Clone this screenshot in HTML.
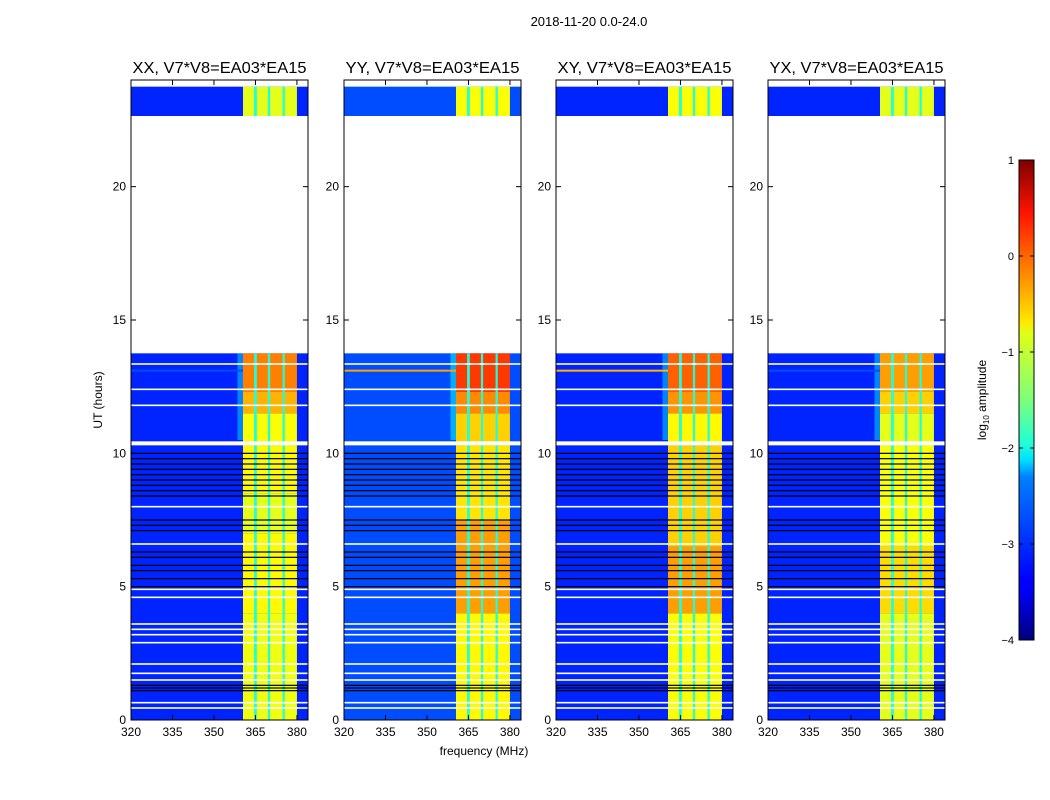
<!DOCTYPE html>
<html><head><meta charset="utf-8"><style>
body{margin:0;background:#fff;}
svg{display:block;font-family:"Liberation Sans","DejaVu Sans",sans-serif;}
</style></head><body>
<svg id="fig" width="1050" height="800" viewBox="0 0 1050 800">
<rect width="1050" height="800" fill="#fff"/>
<text x="589" y="26" font-size="13" text-anchor="middle">2018-11-20 0.0-24.0</text>
<text x="484" y="755" font-size="12" text-anchor="middle">frequency (MHz)</text>
<text transform="translate(102,400) rotate(-90)" font-size="12" text-anchor="middle">UT (hours)</text>
<defs><linearGradient id="jet" x1="0" y1="1" x2="0" y2="0">
<stop offset="0" stop-color="#00007f"/><stop offset="0.11" stop-color="#0000ff"/><stop offset="0.125" stop-color="#0000ff"/><stop offset="0.34" stop-color="#0080ff"/><stop offset="0.375" stop-color="#00e0ff"/><stop offset="0.41" stop-color="#20ffd8"/><stop offset="0.5" stop-color="#7dff7a"/><stop offset="0.64" stop-color="#e0ff18"/><stop offset="0.66" stop-color="#ffea00"/><stop offset="0.89" stop-color="#ff1300"/><stop offset="1" stop-color="#7f0000"/>
</linearGradient></defs>
<g id="panels"></g>
<g>
<rect x="1019" y="160" width="15" height="480" fill="url(#jet)" stroke="#000" stroke-width="1"/>
<g id="cbticks"></g>
<text transform="translate(986,400) rotate(-90)" font-size="12" text-anchor="middle">log<tspan font-size="8" dy="3">10</tspan><tspan dy="-3"> amplitude</tspan></text>
</g>
</svg>
<script>
// ---- data ----
const panelTitles = ["XX, V7*V8=EA03*EA15","YY, V7*V8=EA03*EA15","XY, V7*V8=EA03*EA15","YX, V7*V8=EA03*EA15"];
const xTicks = [320,335,350,365,380];
const yTicks = [0,5,10,15,20];
const cbTicks = [1,0,-1,-2,-3,-4];
const dataSegments = [[0,13.75],[22.65,23.75]];
const background = [-3.2,-3.0,-3.2,-3.2];
const bandEdges = [360.5,380];
const subbandGaps = [[364.5,365.5],[369.5,370.3],[374.8,375.6]];
const gapLevel = -2.0;
const bandLevelsXX = [[0,4,-0.95],[4,7,-0.85],[7,8.5,-1.0],[8.5,10.3,-0.85],[10.3,11.5,-0.9],[11.5,12.3,-0.5],[12.3,13.75,-0.25],[22.65,23.75,-1.0]];
const bandLevelsYY = [[0,4,-0.85],[4,7.5,-0.4],[7.5,10.3,-0.75],[10.3,11.5,-0.65],[11.5,12.3,-0.3],[12.3,13.75,0.1],[22.65,23.75,-0.9]];
const bandLevelsXY = [[0,4,-0.9],[4,6.5,-0.4],[6.5,10.3,-0.65],[10.3,11.5,-0.85],[11.5,12.3,-0.35],[12.3,13.75,-0.1],[22.65,23.75,-0.9]];
const bandLevelsYX = [[0,4,-1.0],[4,6.5,-0.7],[6.5,10.3,-0.9],[10.3,11.5,-1.0],[11.5,12.3,-0.65],[12.3,13.75,-0.4],[22.65,23.75,-1.0]];
const rfiLineLevel = [-3.0,-0.4,-0.5,-3.0];
const rfiLineHour = 13.1;
const whiteLines = [0.45,0.65,1.5,1.75,2.1,2.9,3.2,3.4,3.6,4.6,4.9,6.6,8.0,11.8,12.4,13.35];
const whiteBand = [10.3,10.45];
const blackLines = [1.1,1.2,1.3,5.0,5.3,5.6,5.8,6.1,6.3,7.1,7.3,7.5,8.4,8.6,8.8,9.0,9.2,9.4,9.6,9.8,10.0];

const bandLevels = [bandLevelsXX,bandLevelsYY,bandLevelsXY,bandLevelsYX];
// ---- layout ----
const panelX = [131,344,556,768], PW = 177, PT = 80, PH = 640;
const fMin = 320, fMax = 384, tMin = 0, tMax = 24;
const NS = "http://www.w3.org/2000/svg";
function el(tag, attrs, parent){const e=document.createElementNS(NS,tag);for(const k in attrs)e.setAttribute(k,attrs[k]);parent.appendChild(e);return e;}
function jet(v){let x=(v+4)/5;x=Math.max(0,Math.min(1,x));
 const r=Math.min(4*x-1.5,-4*x+4.5),g=Math.min(4*x-0.5,-4*x+3.5),b=Math.min(4*x+0.5,-4*x+2.5);
 const c=t=>Math.round(255*Math.max(0,Math.min(1,t)));return `rgb(${c(r)},${c(g)},${c(b)})`;}
const root=document.getElementById('panels');
panelTitles.forEach((title,p)=>{
 const x0=panelX[p];
 const xs=f=>x0+(f-fMin)/(fMax-fMin)*PW;
 const ys=t=>PT+PH-(t-tMin)/(tMax-tMin)*PH;
 const g=el('g',{},root);
 
 
 dataSegments.forEach(s=>{
  const r=el('rect',{x:x0,y:ys(s[1]),width:PW,height:ys(s[0])-ys(s[1]),fill:jet(background[p])},g);
  
  
 });
 const sh=el('rect',{x:xs(bandEdges[0]-2),y:ys(13.75),width:xs(bandEdges[0])-xs(bandEdges[0]-2),height:ys(10.5)-ys(13.75),fill:jet(background[p]+0.8),opacity:0.6},g);
 
 
 bandLevels[p].forEach(b=>{
  const c=el('rect',{x:xs(bandEdges[0]),y:ys(b[1]),width:xs(bandEdges[1])-xs(bandEdges[0]),height:ys(b[0])-ys(b[1]),fill:jet(b[2])},g);
  
  
  subbandGaps.forEach(gp=>{
   const q=el('rect',{x:xs(gp[0]),y:ys(b[1]),width:xs(gp[1])-xs(gp[0]),height:ys(b[0])-ys(b[1]),fill:jet(gapLevel)},g);
   
   
  });
 });
 const rl=el('rect',{x:x0,y:ys(rfiLineHour)-1,width:xs(bandEdges[0])-x0,height:2,fill:jet(rfiLineLevel[p])},g);
 
 
 blackLines.forEach(h=>{const l=el('rect',{x:x0,y:ys(h)-0.6,width:PW,height:1.2,fill:'#000'},g);
  
  });
 whiteLines.forEach(h=>{const l=el('rect',{x:x0,y:ys(h)-0.8,width:PW,height:1.6,fill:'#fff'},g);
  
  });
 el('rect',{x:x0,y:ys(whiteBand[1]),width:PW,height:ys(whiteBand[0])-ys(whiteBand[1]),fill:'#fff'},g);
 el('rect',{x:x0,y:PT,width:PW,height:PH,fill:'none',stroke:'#000','stroke-width':1},g);
 const t=el('text',{x:x0+PW/2,y:PT-7,'font-size':16,'text-anchor':'middle',textLength:174,lengthAdjust:'spacingAndGlyphs'},g);
 t.textContent=title;
 
 
 xTicks.forEach(f=>{const x=xs(f);
  el('line',{x1:x,x2:x,y1:PT+PH,y2:PT+PH-5,stroke:'#000'},g);
  el('line',{x1:x,x2:x,y1:PT,y2:PT+5,stroke:'#000'},g);
  const tl=el('text',{x:x,y:PT+PH+16,'font-size':12,'text-anchor':'middle'},g);tl.textContent=f;
  
  });
 yTicks.forEach(h=>{const y=ys(h);
  el('line',{x1:x0,x2:x0+5,y1:y,y2:y,stroke:'#000'},g);
  el('line',{x1:x0+PW,x2:x0+PW-5,y1:y,y2:y,stroke:'#000'},g);
  const tl=el('text',{x:x0-5,y:y+4,'font-size':12,'text-anchor':'end'},g);tl.textContent=h;
  
  });
});
const cb=document.getElementById('cbticks');
cbTicks.forEach(v=>{const y=160+(1-v)*96;
 el('line',{x1:1019,x2:1023,y1:y,y2:y,stroke:'#000'},cb);
 el('line',{x1:1034,x2:1030,y1:y,y2:y,stroke:'#000'},cb);
 const t=el('text',{x:1014,y:y+4,'font-size':11,'text-anchor':'end'},cb);
 t.textContent=v<0?'\u2212'+(-v):v;
 
 });
</script>
</body></html>
